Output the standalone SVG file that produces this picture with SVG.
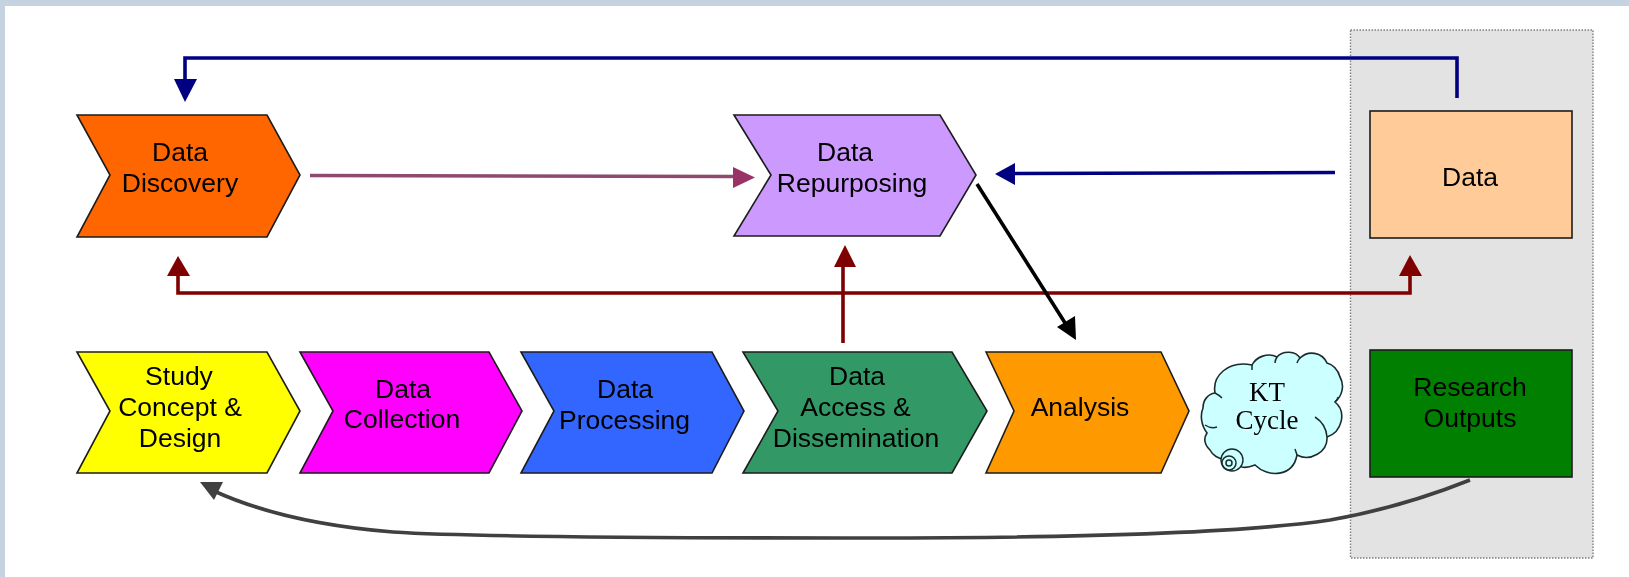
<svg xmlns="http://www.w3.org/2000/svg" width="1629" height="577" viewBox="0 0 1629 577">
<defs><filter id="soft" x="0" y="0" width="100%" height="100%" filterUnits="objectBoundingBox"><feGaussianBlur stdDeviation="0.55"/></filter></defs>
<style>
.s{stroke:#1c1c1c;stroke-width:1.6;stroke-linejoin:miter}
text{font-family:"Liberation Sans",Arial,sans-serif;font-size:26.500px;fill:#000;text-anchor:middle}
text.k{font-family:"Liberation Serif","Times New Roman",serif;font-size:27px}
.c{fill:none;stroke-width:3.6;stroke-linejoin:miter}
.o{fill:none;stroke:#1c2c2c;stroke-width:1.5}
</style>
<rect width="1629" height="577" fill="#c5d3e0"/>
<rect x="5" y="6" width="1624" height="571" fill="#fff"/>
<g filter="url(#soft)">
<rect width="1629" height="577" fill="none"/>
<rect id="panel" x="1350.500" y="30" width="242.500" height="528" fill="#e3e3e3" stroke="#7f7f7f" stroke-width="1.400" stroke-dasharray="1.500 1.500"/>
<g id="connectors">
<path class="c" stroke="#000080" d="M1457 98V58H185V82"/>
<polygon fill="#000080" points="185,102 174,79 197,79"/>
<path class="c" stroke="#7f0000" d="M178 272V293H1410V272"/>
<polygon fill="#7f0000" points="178,256 167,276 190,276"/>
<polygon fill="#7f0000" points="1410,255 1399,276 1422,276"/>
<path class="c" stroke="#7f0000" d="M843 343V262"/>
<polygon fill="#7f0000" points="845,245 834,267 856,267"/>
<path class="c" stroke="#8f4a70" d="M310 175.500L736 176.500"/>
<polygon fill="#993366" points="755,177.500 733,167 733,188"/>
<path class="c" stroke="#000080" d="M1335 172.500L1012 173.500"/>
<polygon fill="#000080" points="995,174 1015,163 1015,185"/>
<path class="c" stroke="#000" d="M977 184L1067 326"/>
<polygon fill="#000" points="1076,340 1057,327 1075,316"/>
<path class="c" stroke="#404040" d="M1470 480C1420 500 1370 513 1330 520C1230 535 1050 538 870 538C650 538 470 537 393 532C320 526 260 512 214 491"/>
<polygon fill="#404040" points="200,482 223,482 214,500"/>
</g>
<g id="data-discovery"><polygon class="s" fill="#ff6600" points="77,115 110,175 77,237 267,237 300,175 267,115"/><text x="180" y="161">Data</text><text x="180" y="192">Discovery</text></g>
<g id="data-repurposing"><polygon class="s" fill="#cc99ff" points="734,115 771,175 734,236 940,236 976,175 940,115"/><text x="845" y="161">Data</text><text x="852" y="192">Repurposing</text></g>
<g id="data"><rect class="s" x="1370" y="111" width="202" height="127" fill="#ffcc99"/><text x="1470" y="186">Data</text></g>
<g id="study"><polygon class="s" fill="#ffff00" points="77,352 110,411 77,473 267,473 300,411 267,352"/><text x="179" y="385">Study</text><text x="180" y="416">Concept &amp;</text><text x="180" y="447">Design</text></g>
<g id="collection"><polygon class="s" fill="#ff00ff" points="300,352 333,411 300,473 489,473 522,411 489,352"/><text x="403" y="398">Data</text><text x="402" y="428">Collection</text></g>
<g id="processing"><polygon class="s" fill="#3366ff" points="521,352 554,411 521,473 712,473 744,411 712,352"/><text x="625" y="398">Data</text><text x="624.500" y="429">Processing</text></g>
<g id="access"><polygon class="s" fill="#339966" points="743,352 778,411 743,473 952,473 987,411 952,352"/><text x="857" y="385">Data</text><text x="855.500" y="416">Access &amp;</text><text x="856" y="447">Dissemination</text></g>
<g id="analysis"><polygon class="s" fill="#ff9900" points="986,352 1014,411 986,473 1161,473 1189,411 1161,352"/><text x="1080" y="416">Analysis</text></g>
<g id="kt-cycle">
<path fill="#ccffff" stroke="#1c2c2c" stroke-width="1.600" d="M1203 408C1203 400 1208 394 1215 393C1212 376 1228 360 1252 365C1256 357 1268 352 1277 357C1283 350 1296 351 1300 358C1308 350 1322 352 1327 363C1334 365 1338 370 1340 377C1345 386 1342 396 1335 402C1347 412 1342 432 1327 437C1328 452 1310 462 1297 455C1293 477 1268 478 1255 465C1250 467 1246 468 1242 467L1225 460C1218 458 1213 456 1210 450C1205 445 1203 439 1207 433C1201 425 1200 415 1203 408Z"/>
<path class="o" d="M1205 425Q1211 429 1217 427M1315 417Q1326 424 1327 437M1215 393Q1219 395 1222 398M1252 365V370M1277 357Q1275 360 1275 363M1300 358Q1298 360 1297 363M1297 455Q1296 452 1295 449M1335 402Q1338 399 1338 397"/>
<circle cx="1232" cy="460" r="11" fill="#ccffff" stroke="#1c2c2c" stroke-width="1.400"/>
<circle cx="1229" cy="463" r="7" class="o"/>
<circle cx="1229" cy="463" r="3" class="o"/>
<text class="k" x="1267" y="401">KT</text><text class="k" x="1267" y="429">Cycle</text>
</g>
<g id="research"><rect class="s" x="1370" y="350" width="202" height="127" fill="#007f00"/><text x="1470" y="396">Research</text><text x="1470" y="427">Outputs</text></g>
</g>
</svg>
